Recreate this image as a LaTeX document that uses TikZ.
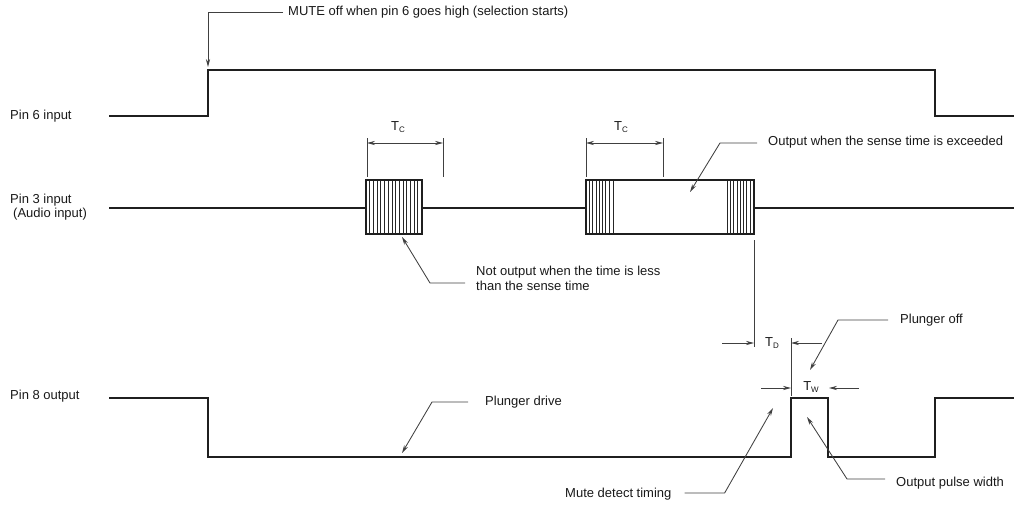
\documentclass[tikz,border=0pt]{standalone}
\usepackage{fontspec}
\setmainfont{Liberation Sans}
\usetikzlibrary{arrows.meta}
\begin{document}
\begin{tikzpicture}[x=1pt,y=-1pt,
  sig/.style={line width=2.9pt, line join=miter, draw=black!88},
  lead/.style={line width=0.85pt, draw=black!75},
  arr/.style={lead, -{Stealth[length=8pt,width=4.2pt]}},
  darr/.style={lead, {Stealth[length=8pt,width=4.2pt]}-{Stealth[length=8pt,width=4.2pt]}},
  hatch/.style={line width=0.7pt, draw=black!85},
  lbl/.style={font=\fontsize{13}{15}\selectfont, inner sep=0pt, anchor=west, text=black!90},
  sym/.style={font=\fontsize{13}{15}\selectfont, inner sep=0pt, text=black!90}]
\useasboundingbox (0,0) rectangle (1014,509);
\newcommand{\subsc}[1]{\raisebox{-1.5pt}{\fontsize{8}{8}\selectfont #1}}

% signal labels
\node[lbl] (p6) at (10,116) {Pin 6 input};
\node[lbl] (p3) at (10,200) {Pin 3 input};
\node[lbl] (p3b) at (13,214) {(Audio input)};
\node[lbl] (p8) at (10,396) {Pin 8 output};

% pin 6
\draw[sig] (109,116) -- (208,116) -- (208,70) -- (935,70) -- (935,116) -- (1014,116);

% pin 3
\draw[sig] (109,208) -- (366,208);
\draw[sig] (422,208) -- (586,208);
\draw[sig] (754,208) -- (1014,208);
\foreach \x in {369.7,373.4,...,419} \draw[hatch] (\x,180) -- (\x,234);
\foreach \x in {589.3,592.6,...,610} \draw[hatch] (\x,180) -- (\x,234);
\draw[hatch] (613,180) -- (613,234);
\foreach \x in {727,730.3,...,751} \draw[hatch] (\x,180) -- (\x,234);
\draw[sig] (366,180) rectangle (422,234);
\draw[sig] (586,180) rectangle (754,234);

% pin 8
\draw[sig] (109,398) -- (208,398) -- (208,457) -- (791,457) -- (791,398) -- (828,398) -- (828,457) -- (935,457) -- (935,398) -- (1014,398);

% MUTE off
\node[lbl] (mute) at (288,12) {MUTE off when pin 6 goes high (selection starts)};
\coordinate (muteTip) at (208,67);
\draw[arr] ([xshift=-5pt]mute.west) -| (muteTip);

% Tc dimensions
\draw[lead] (367,138) -- (367,177);
\draw[lead] (443,138) -- (443,177);
\coordinate (tc1a) at (367,143);
\coordinate (tc1b) at (443,143);
\draw[darr] (tc1a) -- (tc1b);
\node[sym] (tc1) at (398,127) {T\subsc{C}};

\draw[lead] (586,138) -- (586,177);
\draw[lead] (663,138) -- (663,177);
\coordinate (tc2a) at (586,143);
\coordinate (tc2b) at (663,143);
\draw[darr] (tc2a) -- (tc2b);
\node[sym] (tc2) at (621,127) {T\subsc{C}};

% Output when exceeded
\node[lbl] (outex) at (768,142) {Output when the sense time is exceeded};
\coordinate (outexTip) at (690,192);
\draw[arr] ([xshift=-11pt,yshift=-1pt]outex.west) -- ++(-37,0) -- (outexTip);

% Not output
\node[lbl, align=left] (notout) at (476,278) {Not output when the time is less\\than the sense time};
\coordinate (notoutTip) at (402,237);
\draw[arr] ([xshift=-11pt,yshift=-5pt]notout.west) -- ++(-35,0) -- (notoutTip);

% T_D
\draw[lead] (754,240) -- (754,347);
\draw[lead] (791,338) -- (791,396);
\coordinate (tdL) at (754,343);
\coordinate (tdR) at (791,343);
\draw[arr] ([xshift=-32pt]tdL) -- (tdL);
\draw[arr] ([xshift=31pt]tdR) -- (tdR);
\node[sym] (td) at (772,343) {T\subsc{D}};

% Tw
\coordinate (twL) at (791,388);
\coordinate (twR) at (829,388);
\draw[arr] ([xshift=-30pt]twL) -- (twL);
\draw[arr] ([xshift=30pt]twR) -- (twR);
\node[sym] (tw) at (811,387) {T\subsc{W}};

% Plunger off
\node[lbl] (poff) at (900,320) {Plunger off};
\coordinate (poffTip) at (810,370);
\draw[arr] ([xshift=-12pt]poff.west) -- ++(-50,0) -- (poffTip);

% Plunger drive
\node[lbl] (pdrv) at (485,402) {Plunger drive};
\coordinate (pdrvTip) at (402,453);
\draw[arr] ([xshift=-17pt]pdrv.west) -- ++(-36,0) -- (pdrvTip);

% Mute detect timing
\node[lbl] (mdt) at (565,494) {Mute detect timing};
\coordinate (mdtTip) at (773,408);
\draw[arr] ([xshift=13pt,yshift=1pt]mdt.east) -- ++(40,0) -- (mdtTip);

% Output pulse width
\node[lbl] (opw) at (896,483) {Output pulse width};
\coordinate (opwTip) at (807,417);
\draw[arr] ([xshift=-11pt,yshift=4pt]opw.west) -- ++(-38,0) -- (opwTip);
\end{tikzpicture}
\end{document}
